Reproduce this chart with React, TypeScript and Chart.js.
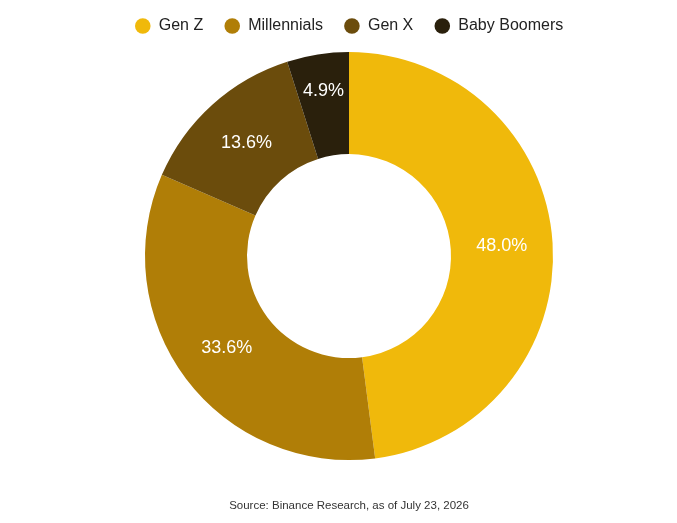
import React, { useEffect, useRef } from 'react'
import Chart, { ArcElement, ChartConfiguration, Plugin } from 'chart.js/auto'

const generations = ['Gen Z', 'Millennials', 'Gen X', 'Baby Boomers']
const shares = [48.0, 33.6, 13.6, 4.9]
const sliceColors = ['#F0B90B', '#B07E07', '#6B4C0C', '#2A200C']
const sourceNote = 'Source: Binance Research, as of July 23, 2026'

const FONT = "'Liberation Sans', Arial, sans-serif"

// white percentage labels in each ring slice; narrow slices push the label outward so it fits
const sliceLabels: Plugin<'doughnut'> = {
  id: 'sliceLabels',
  afterDatasetsDraw(chart) {
    const { ctx } = chart
    const meta = chart.getDatasetMeta(0)
    ctx.save()
    ctx.font = `18px ${FONT}`
    ctx.fillStyle = '#ffffff'
    ctx.textAlign = 'center'
    ctx.textBaseline = 'middle'
    meta.data.forEach((el, i) => {
      const arc = el as unknown as ArcElement
      const { x, y, startAngle, endAngle, innerRadius, outerRadius } = arc.getProps(
        ['x', 'y', 'startAngle', 'endAngle', 'innerRadius', 'outerRadius'],
        true
      ) as any
      const text = `${shares[i].toFixed(1)}%`
      const w = ctx.measureText(text).width
      const mid = (startAngle + endAngle) / 2
      const half = (endAngle - startAngle) / 2
      let r = (innerRadius + outerRadius) / 2
      if (half < Math.PI / 2) {
        const need = (w + 10) / (2 * Math.sin(half))
        r = Math.min(Math.max(r, need), outerRadius - 14)
      }
      ctx.fillText(text, x + Math.cos(mid) * r, y + Math.sin(mid) * r)
    })
    ctx.restore()
  },
}

const App = () => {
  const chartRef = useRef<HTMLCanvasElement>(null)
  const chartInstance = useRef<Chart<'doughnut'>>()

  useEffect(() => {
    document.body.style.margin = '0'
    if (chartRef.current) {
      const ctx = chartRef.current.getContext('2d')
      if (ctx) {
        const config: ChartConfiguration<'doughnut', number[], string> = {
          type: 'doughnut',
          data: {
            labels: generations,
            datasets: [
              {
                data: shares,
                backgroundColor: sliceColors,
                borderWidth: 0,
                radius: 204,
              },
            ],
          },
          options: {
            animation: false,
            responsive: true,
            maintainAspectRatio: false,
            cutout: '50%',
            layout: {
              padding: { top: -3, left: 21, right: 0, bottom: 0 },
            },
            plugins: {
              legend: {
                position: 'top',
                labels: {
                  usePointStyle: true,
                  pointStyle: 'circle',
                  boxWidth: 16,
                  boxHeight: 11,
                  padding: 21,
                  color: '#222222',
                  font: { family: FONT, size: 16 },
                },
              },
              subtitle: {
                display: true,
                position: 'bottom',
                text: sourceNote,
                color: '#333333',
                font: { family: FONT, size: 11.5, weight: 'normal' },
                padding: { top: 31, bottom: 10 },
              },
              tooltip: { enabled: false },
            },
          },
          plugins: [sliceLabels],
        }
        chartInstance.current = new Chart(ctx, config)
      }
    }

    return () => {
      if (chartInstance.current) {
        chartInstance.current.destroy()
      }
    }
  }, [])

  return (
    <div style={{ position: 'absolute', left: 0, top: 0, width: 677, height: 523 }}>
      <canvas ref={chartRef} />
    </div>
  )
}

export default App
